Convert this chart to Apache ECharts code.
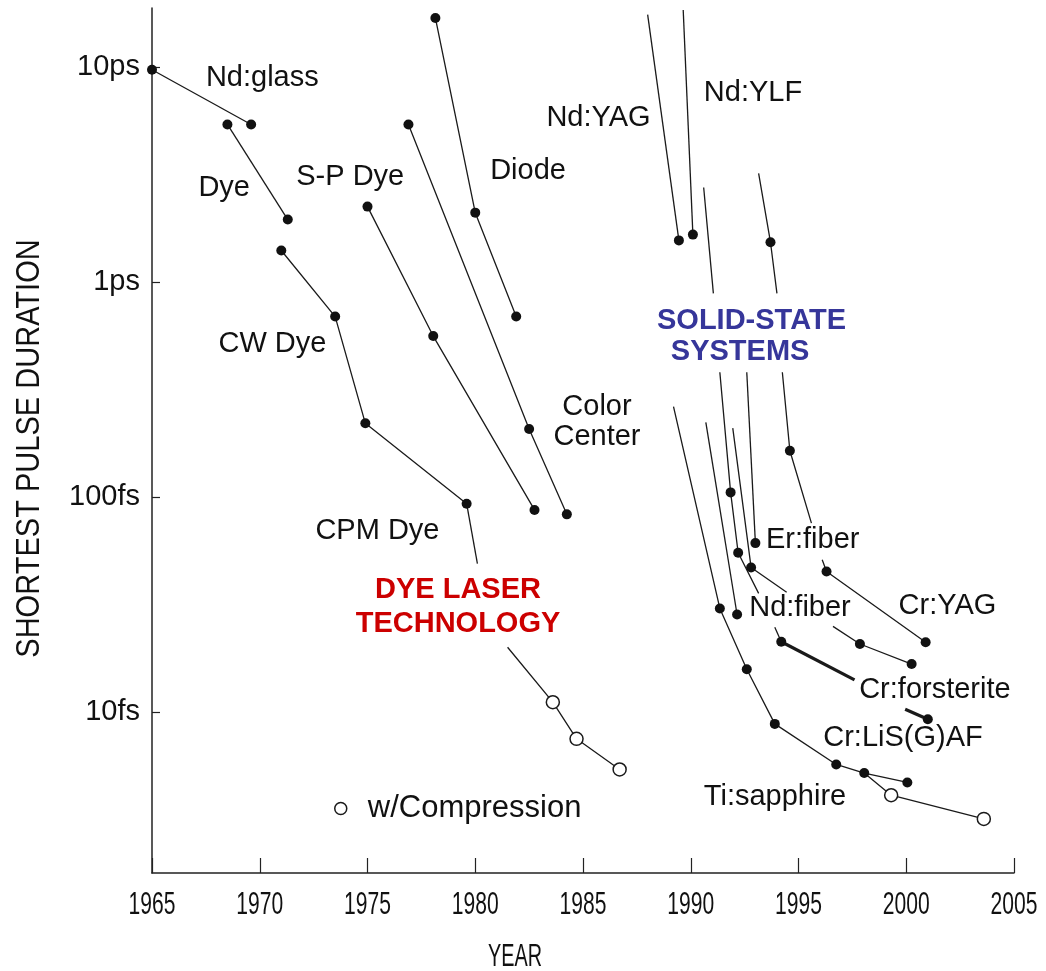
<!DOCTYPE html>
<html>
<head>
<meta charset="utf-8">
<title>Shortest pulse duration vs. year</title>
<script src="https://cdn.jsdelivr.net/npm/echarts@6/dist/echarts.min.js"></script>
<style>
  html, body { margin: 0; padding: 0; background: #fff; }
  #chart { width: 1046px; height: 971px; }
</style>
</head>
<body>
<div id="chart"></div>
<script>
// Each trace is a list of line segments; every point is
// [year, pulse duration in fs, marker] with marker 'dot', 'open' or 'none'.
const ndGlass = [[[1965.0, 9700, 'dot'], [1969.6, 5400, 'dot']]];
const dye = [[[1968.5, 5400, 'dot'], [1971.3, 1950, 'dot']]];
const cwDye = [[[1971.0, 1400, 'dot'], [1973.5, 690, 'dot'], [1974.9, 220, 'dot'], [1979.6, 93, 'dot']]];
const cpmDye = [[[1979.6, 93, 'none'], [1980.1, 49, 'none']]];
const cpmDyeCompressed = [[[1981.5, 20, 'none'], [1983.6, 11.1, 'open'], [1984.7, 7.5, 'open'], [1986.7, 5.4, 'open']]];
const spDye = [[[1975.0, 2240, 'dot'], [1978.05, 560, 'dot'], [1982.75, 87, 'dot']]];
const colorCenter = [[[1976.9, 5400, 'dot'], [1982.5, 207, 'dot'], [1984.25, 83, 'dot']]];
const diode = [[[1978.15, 16900, 'dot'], [1980.0, 2100, 'dot'], [1981.9, 690, 'dot']]];
const ndYag = [[[1988.0, 17500, 'none'], [1989.45, 1560, 'dot']]];
const ndYlf = [[[1989.65, 18400, 'none'], [1990.1, 1660, 'dot']]];
const erFiberEarly = [
  [[1990.6, 2750, 'none'], [1991.05, 885, 'none']],
  [[1991.35, 380, 'none'], [1991.85, 105, 'dot'], [1992.2, 55, 'dot'], [1993.15, 35.6, 'none']],
  [[1993.9, 24.8, 'none'], [1994.2, 21.2, 'dot']]
];
const crForsterite = [
  [[1994.2, 21.2, 'none'], [1997.6, 14.1, 'none']],
  [[1999.95, 10.3, 'none'], [2001.0, 9.25, 'dot']]
];
const erFiber = [[[1992.6, 380, 'none'], [1993.0, 61, 'dot']]];
const crYag = [
  [[1993.15, 3200, 'none'], [1993.7, 1530, 'dot'], [1994.0, 885, 'none']],
  [[1994.25, 380, 'none'], [1994.6, 164, 'dot'], [1995.6, 75.5, 'none']],
  [[1996.1, 51, 'none'], [1996.3, 45, 'dot'], [2000.9, 21.1, 'dot']]
];
const crLisaf = [
  [[1991.95, 209, 'none'], [1992.8, 47, 'dot'], [1994.45, 36, 'none']],
  [[1996.6, 25, 'none'], [1997.85, 20.7, 'dot'], [2000.25, 16.7, 'dot']]
];
const ndFiber = [[[1990.7, 222, 'none'], [1992.15, 28.4, 'dot']]];
const tiSapphire = [[[1989.2, 263, 'none'], [1991.35, 30.3, 'dot'], [1992.6, 15.8, 'dot'], [1993.9, 8.8, 'dot'],
  [1996.75, 5.7, 'dot'], [1998.05, 5.2, 'dot'], [2000.05, 4.7, 'dot']]];
const tiSapphireCompressed = [[[1998.05, 5.2, 'none'], [1999.3, 4.1, 'open'], [2003.6, 3.18, 'open']]];

// Axis ticks (durations in fs) and their labels
const tickDurations = [10, 100, 1000, 10000];
const tickLabels = ['10fs', '100fs', '1ps', '10ps'];
const yearMin = 1965, yearMax = 2005, yearStep = 5;
const yearTicks = [1965, 1970, 1975, 1980, 1985, 1990, 1995, 2000, 2005];

// Text annotations: [text, year, duration in fs, kind]
const annotations = [
  ['Nd:glass', 1970.12, 8890, 'plain'],
  ['Dye', 1968.35, 2740, 'plain'],
  ['S-P Dye', 1974.2, 3076, 'plain'],
  ['Diode', 1982.45, 3281, 'plain'],
  ['Nd:YAG', 1985.72, 5800, 'plain'],
  ['Nd:YLF', 1992.89, 7530, 'plain'],
  ['CW Dye', 1970.59, 512, 'plain'],
  ['SOLID-STATE', 1992.82, 660, 'blue'],
  ['SYSTEMS', 1992.29, 474, 'blue'],
  ['Color\nCenter', 1985.65, 222, 'plain'],
  ['CPM Dye', 1975.46, 69.1, 'plain'],
  ['DYE LASER\nTECHNOLOGY', 1979.2, 30.8, 'red'],
  ['Er:fiber', 1995.66, 62.8, 'plain'],
  ['Cr:YAG', 2001.91, 31.1, 'plain'],
  ['Nd:fiber', 1995.07, 30.5, 'plain'],
  ['Cr:forsterite', 2001.33, 12.66, 'plain'],
  ['Cr:LiS(G)AF', 1999.85, 7.53, 'plain'],
  ['Ti:sapphire', 1993.91, 4.04, 'plain']
];

const FONT = '"Liberation Sans", Arial, Helvetica, sans-serif';
const INK = '#1a1a1a';
const TEXT = '#111111';
const COMPRESSION = 'w/Compression';

const traces = [
  { name: 'Nd:glass', segs: ndGlass },
  { name: 'Dye', segs: dye },
  { name: 'CW Dye', segs: cwDye },
  { name: 'CPM Dye', segs: cpmDye },
  { name: COMPRESSION, segs: cpmDyeCompressed },
  { name: 'S-P Dye', segs: spDye },
  { name: 'Color Center', segs: colorCenter },
  { name: 'Diode', segs: diode },
  { name: 'Nd:YAG', segs: ndYag },
  { name: 'Nd:YLF', segs: ndYlf },
  { name: 'Er:fiber (early)', segs: erFiberEarly },
  { name: 'Cr:forsterite', segs: crForsterite, thick: true },
  { name: 'Er:fiber', segs: erFiber },
  { name: 'Cr:YAG', segs: crYag },
  { name: 'Cr:LiS(G)AF', segs: crLisaf },
  { name: 'Nd:fiber', segs: ndFiber },
  { name: 'Ti:sapphire', segs: tiSapphire },
  { name: COMPRESSION, segs: tiSapphireCompressed }
];

function pointItem(p) {
  const item = { value: [p[0], Math.log10(p[1])] };
  if (p[2] === 'none') {
    item.symbol = 'none';
  } else if (p[2] === 'open') {
    item.symbol = 'circle';
    item.symbolSize = 13;
    item.itemStyle = { color: '#fff', borderColor: INK, borderWidth: 1.5 };
  } else {
    item.symbol = 'circle';
    item.symbolSize = 10;
    item.itemStyle = { color: '#111', borderWidth: 0 };
  }
  return item;
}

const series = [];
traces.forEach(function (t) {
  t.segs.forEach(function (seg) {
    series.push({
      type: 'line',
      name: t.name,
      data: seg.map(pointItem),
      showSymbol: true,
      showAllSymbol: true,
      lineStyle: { color: INK, width: t.thick ? 3.2 : 1.3 },
      itemStyle: { color: '#111' },
      emphasis: { disabled: true },
      silent: true,
      clip: false,
      z: 3
    });
  });
});

const kindStyle = {
  plain: { color: TEXT, fontWeight: 'normal' },
  blue: { color: '#36369a', fontWeight: 'bold' },
  red: { color: '#cc0000', fontWeight: 'bold' }
};

// Annotation texts, anchored in data coordinates
series.push({
  type: 'scatter',
  name: 'annotations',
  symbol: 'circle',
  symbolSize: 1,
  itemStyle: { color: 'rgba(0,0,0,0)', opacity: 1 },
  emphasis: { disabled: true },
  silent: true,
  z: 5,
  data: annotations.map(function (a) {
    const st = kindStyle[a[3]];
    return {
      value: [a[1], Math.log10(a[2])],
      label: {
        show: true,
        position: 'inside',
        formatter: a[0],
        fontFamily: FONT,
        fontSize: 29,
        lineHeight: a[3] === 'red' ? 34 : 30,
        color: st.color,
        opacity: 1,
        fontWeight: st.fontWeight,
        align: 'center',
        verticalAlign: 'middle'
      }
    };
  })
});

const chart = echarts.init(document.getElementById('chart'), null, { renderer: 'canvas' });
chart.setOption({
  animation: false,
  backgroundColor: '#fff',
  grid: { left: 152, right: 32, top: 8, bottom: 98, outerBoundsMode: 'none' },
  legend: {
    data: [{
      name: COMPRESSION,
      icon: 'circle',
      itemStyle: { color: '#fff', borderColor: INK, borderWidth: 1.5 }
    }],
    selectedMode: false,
    padding: 0,
    left: 334,
    top: 793,
    itemWidth: 12,
    itemHeight: 12,
    textStyle: { fontFamily: FONT, fontSize: 31, color: TEXT, padding: [0, 0, 0, 16] }
  },
  xAxis: {
    type: 'value',
    min: yearMin,
    max: yearMax,
    interval: yearStep,
    axisLine: { show: true, lineStyle: { color: '#222', width: 1.5 } },
    axisTick: { show: true, inside: true, length: 15, lineStyle: { color: '#222', width: 1.2 } },
    axisLabel: { show: false },
    splitLine: { show: false }
  },
  yAxis: {
    type: 'value',
    min: 0.251,
    max: 4.274,
    axisLine: { show: true, lineStyle: { color: '#222', width: 1.5 } },
    axisTick: {
      show: true, inside: true, length: 8,
      customValues: tickDurations.map(function (d) { return Math.log10(d); }),
      lineStyle: { color: '#222', width: 1.2 }
    },
    axisLabel: {
      fontFamily: FONT, fontSize: 29, color: TEXT, margin: 12,
      customValues: tickDurations.map(function (d) { return Math.log10(d); }),
      formatter: function (v) {
        const i = tickDurations.findIndex(function (d) { return Math.abs(Math.log10(d) - v) < 1e-6; });
        return i >= 0 ? tickLabels[i] : '';
      }
    },
    splitLine: { show: false }
  },
  series: series
});

// Condensed year labels and axis titles, placed from the axis scales
const axisBottom = chart.convertToPixel({ yAxisIndex: 0 }, 0.251);
const axisLeft = chart.convertToPixel({ xAxisIndex: 0 }, yearMin);
const plotTop = chart.convertToPixel({ yAxisIndex: 0 }, 4.274);
const condensed = [];
yearTicks.forEach(function (yr) {
  condensed.push({
    type: 'text',
    x: chart.convertToPixel({ xAxisIndex: 0 }, yr),
    y: axisBottom + 32,
    scaleX: 0.68,
    silent: true,
    style: { text: String(yr), fontFamily: FONT, fontSize: 31, fill: TEXT, align: 'center', verticalAlign: 'middle' }
  });
});
condensed.push({
  type: 'text',
  x: chart.convertToPixel({ xAxisIndex: 0 }, 1981.85),
  y: axisBottom + 84,
  scaleX: 0.64,
  silent: true,
  style: { text: 'YEAR', fontFamily: FONT, fontSize: 31, fill: TEXT, align: 'center', verticalAlign: 'middle' }
});
condensed.push({
  type: 'text',
  x: axisLeft - 122,
  y: (axisBottom + plotTop) / 2 + 8,
  rotation: Math.PI / 2,
  scaleX: 0.88,
  silent: true,
  style: { text: 'SHORTEST PULSE DURATION', fontFamily: FONT, fontSize: 33, fill: TEXT, align: 'center', verticalAlign: 'middle' }
});
chart.setOption({ graphic: condensed });
</script>
</body>
</html>
